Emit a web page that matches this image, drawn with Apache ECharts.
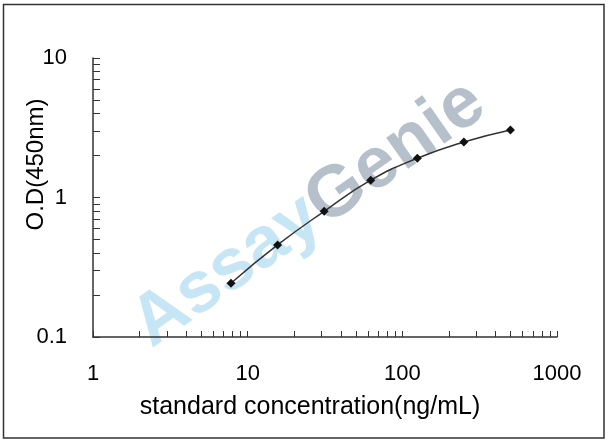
<!DOCTYPE html>
<html>
<head>
<meta charset="utf-8">
<script src="https://cdn.jsdelivr.net/npm/echarts@6/dist/echarts.min.js"></script>
<style>html,body{margin:0;padding:0;background:#fff}#c{width:608px;height:441px}</style>
</head>
<body>
<div id="c"></div>
<script>
// Data
var concentrations = [7.8, 15.6, 31.25, 62.5, 125, 250, 500];
var odValues = [0.243, 0.457, 0.796, 1.33, 1.91, 2.50, 3.05];
var xTickLabels = [1, 10, 100, 1000];
var yTickLabels = [0.1, 1, 10];
var xTickValues = [1, 2, 3, 4, 5, 6, 7, 8, 9, 10, 20, 30, 40, 50, 60, 70, 80, 90, 100, 200, 300, 400, 500, 600, 700, 800, 900, 1000];
var yTickValues = [0.1, 0.2, 0.3, 0.4, 0.5, 0.6, 0.7, 0.8, 0.9, 1, 2, 3, 4, 5, 6, 7, 8, 9, 10];
var xName = 'standard concentration(ng/mL)';
var yName = 'O.D(450nm)';

var points = concentrations.map(function (c, i) { return [c, odValues[i]]; });
var font = '"Liberation Sans", Arial, sans-serif';
function plain(v) { return String(+(+v).toFixed(2)); }

var chart = echarts.init(document.getElementById('c'), null, {renderer: 'canvas'});
chart.setOption({
  animation: false,
  backgroundColor: '#fff',
  grid: {left: 93, right: 51, top: 58, bottom: 104},
  xAxis: {
    type: 'log', logBase: 10, min: 1, max: 1000,
    name: xName, nameLocation: 'middle', nameGap: 58, nameMoveOverlap: false,
    nameTextStyle: {fontFamily: font, fontSize: 25, color: '#000', padding: [0, 30, 0, 0]},
    axisLine: {show: true, lineStyle: {color: '#333', width: 1.5}},
    axisTick: {show: true, inside: true, length: 6, lineStyle: {color: '#333'}, customValues: xTickValues},
    axisLabel: {fontFamily: font, fontSize: 22, color: '#000', margin: 26, customValues: xTickLabels, formatter: plain},
    splitLine: {show: false}, minorTick: {show: false}
  },
  yAxis: {
    type: 'log', logBase: 10, min: 0.1, max: 10,
    name: yName, nameLocation: 'middle', nameGap: 45, nameRotate: 90, nameMoveOverlap: false,
    nameTextStyle: {fontFamily: font, fontSize: 24, color: '#000', padding: [0, 0, 0, 66]},
    axisLine: {show: true, lineStyle: {color: '#333', width: 1.5}},
    axisTick: {show: true, inside: true, length: 7, lineStyle: {color: '#333'}, customValues: yTickValues},
    axisLabel: {fontFamily: font, fontSize: 22, color: '#000', margin: 26, customValues: yTickLabels, formatter: plain},
    splitLine: {show: false}, minorTick: {show: false}
  },
  graphic: [
    {type: 'rect', shape: {x: 3.5, y: 4.5, width: 600.5, height: 433.5}, style: {fill: 'none', stroke: '#333', lineWidth: 1.5}, z: 100},
    {type: 'text', x: 309, y: 214, rotation: 35 * Math.PI / 180, z: 0,
      style: {text: '{a|Assay}{g|Genie}', align: 'center', verticalAlign: 'middle',
        rich: {
          a: {fontFamily: font, fontWeight: 'bold', fontSize: 72, fill: '#c7e6f5'},
          g: {fontFamily: font, fontWeight: 'bold', fontSize: 72, fill: '#b6c0cb'}
        }}}
  ],
  series: [{
    type: 'line', data: points, smooth: true, z: 10,
    lineStyle: {color: '#333', width: 1.5},
    symbol: 'diamond', symbolSize: 9,
    itemStyle: {color: '#111'}
  }]
});
</script>
</body>
</html>
